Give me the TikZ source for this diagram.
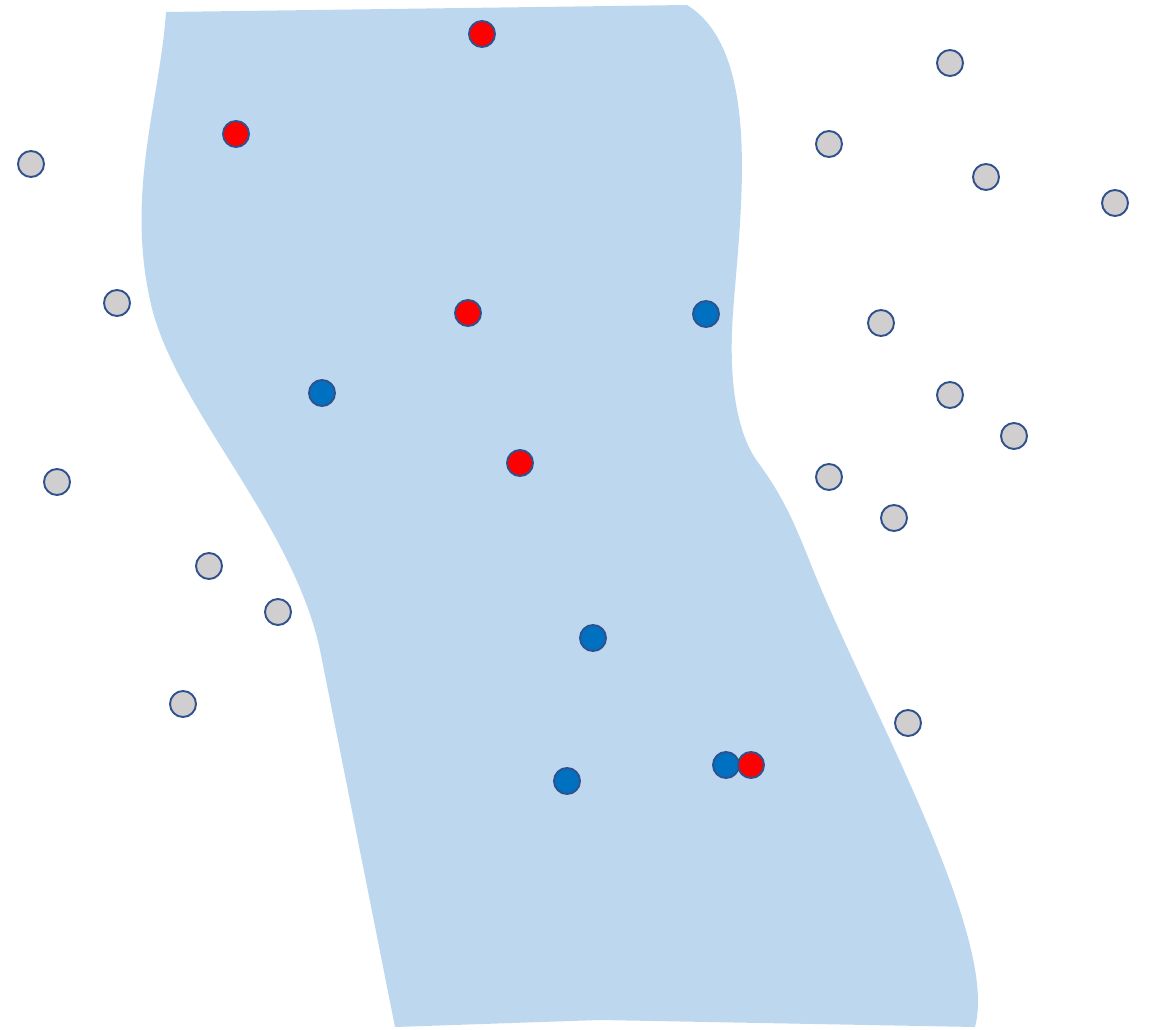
\documentclass[tikz,border=0pt]{standalone}
\usepackage{xcolor}
\usepackage{tikz}
\definecolor{regionfill}{HTML}{BDD7EE}
\definecolor{dotedge}{HTML}{2F528F}
\definecolor{dotgray}{HTML}{D0CECE}
\definecolor{dotblue}{HTML}{0070C0}
\definecolor{dotred}{HTML}{FF0000}

\begin{document}
\begin{tikzpicture}[
  x=0.02cm, y=-0.02cm,
  region/.style={fill=regionfill, draw=none},
  dot/.style={circle, draw=dotedge, line width=1.1pt, minimum size=0.52cm, inner sep=0pt},
  outside/.style={dot, fill=dotgray},
  bluept/.style={dot, fill=dotblue},
  redpt/.style={dot, fill=dotred}
]
  \useasboundingbox (0,0) rectangle (1150,1030);

  % shaded band
  \path[region] (166,12) -- (687,5)
    .. controls (760,50) and (742,200) .. (734,300)
    .. controls (726,390) and (740,440) .. (760,465)
    .. controls (785,500) and (795,525) .. (810,562)
    .. controls (862,695) and (1000,935) .. (975,1027)
    -- (600,1020) -- (395,1027) -- (320,650)
    .. controls (292,520) and (172,405) .. (150,300)
    .. controls (126,190) and (160,100) .. (166,12) -- cycle;

  % points outside the band
  \node[outside] (g1) at (31,164) {};
  \node[outside] (g2) at (117,303) {};
  \node[outside] (g3) at (57,482) {};
  \node[outside] (g4) at (209,566) {};
  \node[outside] (g5) at (278,612) {};
  \node[outside] (g6) at (183,704) {};
  \node[outside] (g7) at (950,63) {};
  \node[outside] (g8) at (829,144) {};
  \node[outside] (g9) at (986,177) {};
  \node[outside] (g10) at (1115,203) {};
  \node[outside] (g11) at (881,323) {};
  \node[outside] (g12) at (950,395) {};
  \node[outside] (g13) at (1014,436) {};
  \node[outside] (g14) at (829,477) {};
  \node[outside] (g15) at (894,518) {};
  \node[outside] (g16) at (908,723) {};

  % blue points
  \node[bluept] (b1) at (706,314) {};
  \node[bluept] (b2) at (322,393) {};
  \node[bluept] (b3) at (593,638) {};
  \node[bluept] (b4) at (567,781) {};
  \node[bluept] (b5) at (726,765) {};

  % red points
  \node[redpt] (r1) at (482,34) {};
  \node[redpt] (r2) at (236,134) {};
  \node[redpt] (r3) at (468,313) {};
  \node[redpt] (r4) at (520,463) {};
  \node[redpt] (r5) at (751,765) {};
\end{tikzpicture}
\end{document}
